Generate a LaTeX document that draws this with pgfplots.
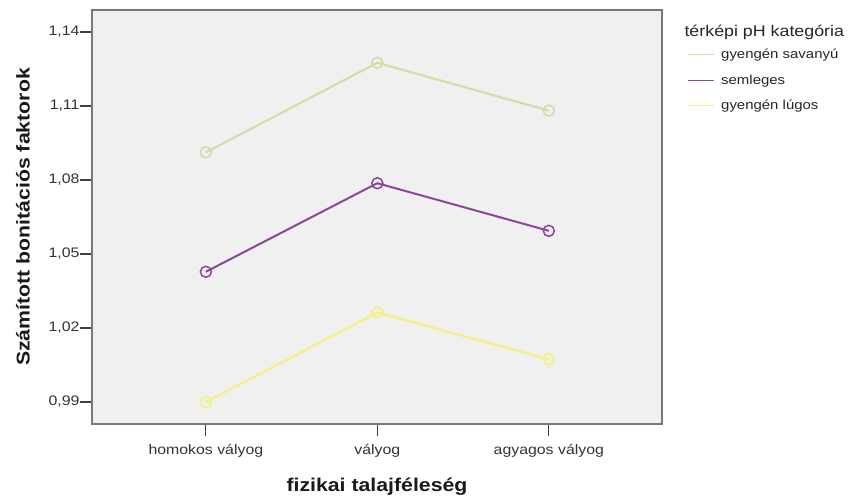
\documentclass[border=0pt]{standalone}
\usepackage{fontspec}
\setmainfont{Liberation Sans}[FakeStretch=1.15]
\usepackage{pgfplots}
\pgfplotsset{compat=1.18}
\definecolor{savanyu}{RGB}{218,216,165}
\definecolor{semleges}{RGB}{140,72,152}
\definecolor{lugos}{RGB}{246,240,128}
\definecolor{bg}{RGB}{240,240,240}
\definecolor{frame}{RGB}{120,120,120}
\begin{document}
\begin{tikzpicture}
\begin{axis}[
  scale only axis, width=570pt, height=414pt,
  xmin=-0.664, xmax=2.66, ymin=0.9811, ymax=1.1489,
  axis background/.style={fill=bg},
  axis line style={frame, line width=1.2pt},
  xtick pos=bottom, ytick pos=left,
  xtick={0,1,2}, xticklabels={homokos vályog, vályog, agyagos vályog},
  ytick={0.99,1.02,1.05,1.08,1.11,1.14},
  tick align=outside, major tick length=12pt,
  tick style={black!75, line width=1.1pt},
  every tick label/.append style={font=\fontsize{13.8}{16}\selectfont, text=black!80},
  yticklabel style={xshift=3pt, /pgf/number format/.cd, fixed, fixed zerofill, precision=2, use comma, assume math mode=true},
  xticklabel style={yshift=-5pt},
  xlabel={\textbf{fizikai talajféleség}},
  ylabel={\textbf{Számított bonitációs faktorok}},
  label style={font=\fontsize{18.5}{21}\selectfont, text=black!90},
  xlabel style={yshift=-14pt},
  ylabel style={yshift=12pt},
  legend style={at={(1,1)}, anchor=north west, xshift=25pt, yshift=-37pt, draw=none, fill=none,
    font=\fontsize{13}{15}\selectfont, row sep=10.5pt, inner sep=0pt, text=black!85,
    nodes={inner xsep=7pt}},
  legend cell align=left,
  legend image code/.code={\draw[#1, line width=1pt] (0pt,0pt) -- (26pt,0pt);},
  clip=false,
]
\addplot[savanyu, line width=2pt, mark=o, mark size=5.5pt, mark options={line width=1.5pt}]
  coordinates {(0,1.0912) (1,1.1275) (2,1.1081)};
\addlegendentry{gyengén savanyú}
\addplot[semleges, line width=2pt, mark=o, mark size=5.5pt, mark options={line width=1.5pt}]
  coordinates {(0,1.0428) (1,1.0787) (2,1.0594)};
\addlegendentry{semleges}
\addplot[lugos, line width=2.2pt, mark=o, mark size=5.5pt, mark options={line width=1.7pt}]
  coordinates {(0,0.9900) (1,1.0263) (2,1.0073)};
\addlegendentry{gyengén lúgos}
\node[anchor=west, font=\fontsize{15.5}{18}\selectfont, text=black!85] at ([xshift=19pt,yshift=-22pt]current axis.north east) {térképi pH kategória};
\end{axis}
\pgfresetboundingbox
\path (current axis.south west) ++(-92pt,-77pt) rectangle ++(854pt,501pt);
\end{tikzpicture}
\end{document}
